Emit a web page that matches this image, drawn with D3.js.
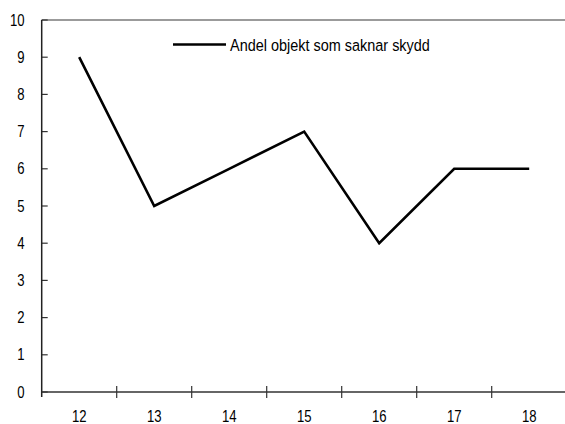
<!DOCTYPE html>
<html>
<head>
<meta charset="utf-8">
<script src="https://cdn.jsdelivr.net/npm/d3@7"></script>
<style>
  body { margin: 0; background: #fff; }
  text { font-family: "Liberation Sans", Arial, sans-serif; fill: #000; }
</style>
</head>
<body>
<div id="app"></div>
<script>
// data
var years = ['12','13','14','15','16','17','18'];
var share = [9, 5, 6, 7, 4, 6, 6];
var yTicks = [0,1,2,3,4,5,6,7,8,9,10];
var seriesName = 'Andel objekt som saknar skydd';

var W = 565, H = 424;
var pLeft = 41.7, pRight = 566.7, pTop = 20, pBottom = 392;
var narrow = 0.82; // squeeze text to look like a narrow font

var svg = d3.select('#app')
  .append('svg')
    .attr('width', W)
    .attr('height', H);

var x = d3.scaleBand()
    .domain(years)
    .range([pLeft, pRight]);

var y = d3.scaleLinear()
    .domain([0, 10])
    .range([pBottom, pTop]);

// top border
svg.append('line')
    .attr('x1', pLeft).attr('x2', W)
    .attr('y1', pTop).attr('y2', pTop)
    .attr('stroke', '#7a7a7a')
    .attr('stroke-width', 1.5);

// y axis, ticks pointing inward
var yAxis = svg.append('g');
yAxis.selectAll('line.tk')
    .data(yTicks)
  .enter().append('line')
    .attr('class', 'tk')
    .attr('x1', pLeft).attr('x2', pLeft + 6)
    .attr('y1', function(d){ return y(d); })
    .attr('y2', function(d){ return y(d); })
    .attr('stroke', '#333')
    .attr('stroke-width', 1.2);
yAxis.selectAll('text')
    .data(yTicks)
  .enter().append('text')
    .attr('transform', function(d){ return 'translate(24.5,' + (y(d) + 5.5) + ') scale(' + narrow + ',1)'; })
    .attr('text-anchor', 'end')
    .attr('font-size', 16)
    .text(function(d){ return d; });
yAxis.append('line')
    .attr('x1', pLeft).attr('x2', pLeft)
    .attr('y1', pTop).attr('y2', pBottom + 5)
    .attr('stroke', '#222')
    .attr('stroke-width', 1.5);

// x axis, ticks between categories
var boundaries = years.map(function(d){ return x(d); }).concat([pRight]);
var xAxis = svg.append('g')
    .attr('transform', 'translate(0,' + pBottom + ')');
xAxis.append('line')
    .attr('x1', pLeft).attr('x2', W)
    .attr('y1', 0).attr('y2', 0)
    .attr('stroke', '#333')
    .attr('stroke-width', 1.5);
xAxis.selectAll('line.tk')
    .data(boundaries.slice(1))
  .enter().append('line')
    .attr('class', 'tk')
    .attr('x1', function(d){ return d; })
    .attr('x2', function(d){ return d; })
    .attr('y1', -6).attr('y2', 6)
    .attr('stroke', '#333')
    .attr('stroke-width', 1.2);
xAxis.selectAll('text')
    .data(years)
  .enter().append('text')
    .attr('transform', function(d){ return 'translate(' + (x(d) + x.bandwidth() / 2) + ',29.5) scale(' + narrow + ',1)'; })
    .attr('text-anchor', 'middle')
    .attr('font-size', 16)
    .text(function(d){ return d; });

// line
var line = d3.line()
    .x(function(d, i){ return x(years[i]) + x.bandwidth() / 2; })
    .y(function(d){ return y(d); });

svg.append('path')
    .datum(share)
    .attr('d', line)
    .attr('fill', 'none')
    .attr('stroke', '#000')
    .attr('stroke-width', 2.6)
    .attr('stroke-linejoin', 'miter');

// legend
var lg = svg.append('g').attr('transform', 'translate(173,44.5)');
lg.append('line')
    .attr('x1', 0).attr('x2', 53)
    .attr('stroke', '#000')
    .attr('stroke-width', 2.6);
lg.append('text')
    .attr('transform', 'translate(57,6) scale(0.85,1)')
    .attr('font-size', 17)
    .text(seriesName);
</script>
</body>
</html>
